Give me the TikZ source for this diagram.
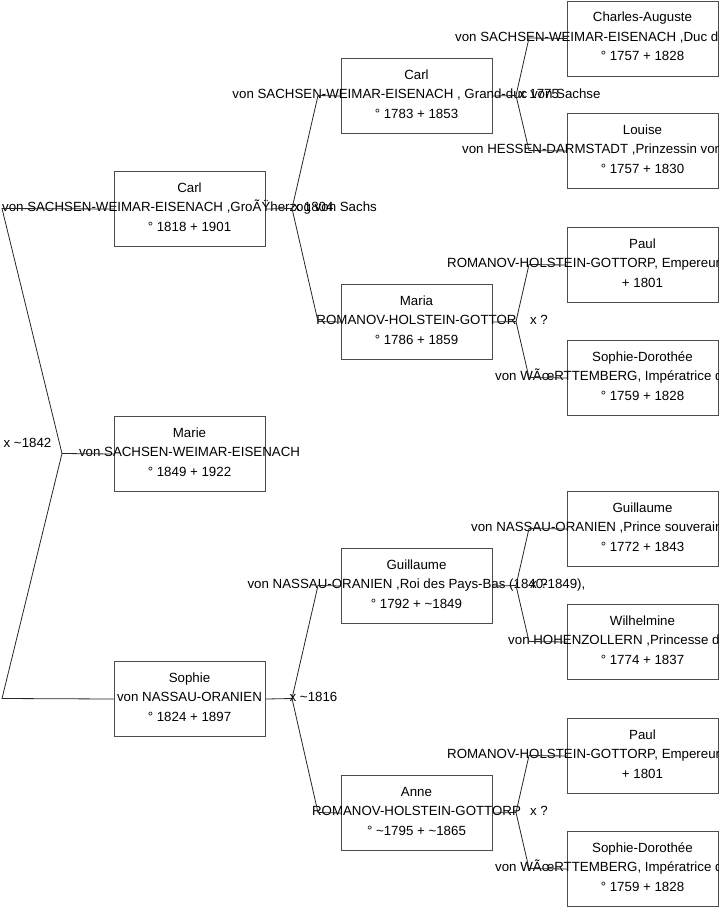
\documentclass[tikz,border=0pt]{standalone}
\usepackage{fontspec}
\setmainfont{Liberation Sans}
\begin{document}
\begin{tikzpicture}[x=1pt,y=-1pt,
  box/.style={draw=black!70, line width=1pt, rectangle, minimum width=151pt, minimum height=75pt, inner sep=0pt, anchor=north west},
  txt/.style={font=\fontsize{13.3}{16}\selectfont, inner sep=0pt, anchor=base},
  txtl/.style={txt, anchor=base west},
  link/.style={draw=black!85, line width=0.8pt}]
\clip (0,0) rectangle (719,908);
\useasboundingbox (0,0) rectangle (719,908);
\newcommand\person[6]{%
  \pgfmathsetmacro\pyA{#3+21}\pgfmathsetmacro\pyB{#3+40.7}%
  \pgfmathsetmacro\pyC{#3+60.4}\pgfmathsetmacro\pxC{#2+75.5}%
  \node[box] (#1) at (#2,#3) {};
  \node[txt] (#1-a) at (\pxC,\pyA) {#4};
  \node[txt] (#1-b) at (\pxC,\pyB) {#5};
  \node[txt] (#1-c) at (\pxC,\pyC) {#6};}
\newcommand\personr[7]{%
  \pgfmathsetmacro\pyA{#3+21}\pgfmathsetmacro\pyB{#3+40.7}%
  \pgfmathsetmacro\pyC{#3+60.4}\pgfmathsetmacro\pxC{#2+75.5}%
  \node[box] (#1) at (#2,#3) {};
  \node[txt] (#1-a) at (\pxC,\pyA) {#4};
  \node[txtl] (#1-b) at (#7,\pyB) {#5};
  \node[txt] (#1-c) at (\pxC,\pyC) {#6};}
% generation 1
\person{carlA}{114}{171}{Carl}{von SACHSEN-WEIMAR-EISENACH ,GroÃŸherzog von Sachs}{° 1818 + 1901}
\person{marie}{114}{416}{Marie}{von SACHSEN-WEIMAR-EISENACH}{° 1849 + 1922}
\person{sophie}{114}{661}{Sophie}{von NASSAU-ORANIEN}{° 1824 + 1897}
% generation 2
\person{carlB}{341}{58}{Carl}{von SACHSEN-WEIMAR-EISENACH , Grand-duc von Sachse}{° 1783 + 1853}
\person{maria}{341}{284}{Maria}{ROMANOV-HOLSTEIN-GOTTOR}{° 1786 + 1859}
\person{guilB}{341}{548}{Guillaume}{von NASSAU-ORANIEN ,Roi des Pays-Bas (1840-1849),}{° 1792 + \textasciitilde1849}
\person{anne}{341}{775}{Anne}{ROMANOV-HOLSTEIN-GOTTORP}{° \textasciitilde1795 + \textasciitilde1865}
% generation 3
\personr{charles}{567}{0.5}{Charles-Auguste}{von SACHSEN-WEIMAR-EISENACH ,Duc d}{° 1757 + 1828}{455}
\personr{louise}{567}{113}{Louise}{von HESSEN-DARMSTADT ,Prinzessin von}{° 1757 + 1830}{462}
\personr{paulA}{567}{227}{Paul}{ROMANOV-HOLSTEIN-GOTTORP, Empereur}{+ 1801}{447}
\personr{sdA}{567}{340}{Sophie-Dorothée}{von WÃœRTTEMBERG, Impératrice d}{° 1759 + 1828}{495}
\personr{guilC}{567}{491}{Guillaume}{von NASSAU-ORANIEN ,Prince souverain}{° 1772 + 1843}{471}
\personr{wilh}{567}{604}{Wilhelmine}{von HOHENZOLLERN ,Princesse d}{° 1774 + 1837}{508}
\personr{paulB}{567}{718}{Paul}{ROMANOV-HOLSTEIN-GOTTORP, Empereur}{+ 1801}{447}
\personr{sdB}{567}{831}{Sophie-Dorothée}{von WÃœRTTEMBERG, Impératrice d}{° 1759 + 1828}{495}
% fork coordinates
\coordinate (v1) at (62,453.5);
\coordinate (v1a) at (2,208.5);
\coordinate (v1b) at (2,698.5);
\coordinate (v2) at (292,208.5);
\coordinate (v2a) at (318,95.5);
\coordinate (v2b) at (318,321.5);
\coordinate (v3) at (292,698.5);
\coordinate (v3a) at (318,585.5);
\coordinate (v3b) at (318,812.5);
\coordinate (v4) at (516,95.5);
\coordinate (v4a) at (529,38);
\coordinate (v4b) at (529,150.5);
\coordinate (v5) at (516,321.5);
\coordinate (v5a) at (529,264.5);
\coordinate (v5b) at (529,377.5);
\coordinate (v6) at (516,585.5);
\coordinate (v6a) at (529,528.5);
\coordinate (v6b) at (529,641.5);
\coordinate (v7) at (516,812.5);
\coordinate (v7a) at (529,755.5);
\coordinate (v7b) at (529,868.5);
% connectors
\draw[link] (marie.west) -- (v1) -- (v1a) -- (carlA.west);
\draw[link] (v1) -- (v1b) -- (sophie.west);
\draw[link] (carlA.east) -- (v2) -- (v2a) -- (carlB.west);
\draw[link] (v2) -- (v2b) -- (maria.west);
\draw[link] (sophie.east) -- (v3) -- (v3a) -- (guilB.west);
\draw[link] (v3) -- (v3b) -- (anne.west);
\draw[link] (carlB.east) -- (v4) -- (v4a) -- (charles.west);
\draw[link] (v4) -- (v4b) -- (louise.west);
\draw[link] (maria.east) -- (v5) -- (v5a) -- (paulA.west);
\draw[link] (v5) -- (v5b) -- (sdA.west);
\draw[link] (guilB.east) -- (v6) -- (v6a) -- (guilC.west);
\draw[link] (v6) -- (v6b) -- (wilh.west);
\draw[link] (anne.east) -- (v7) -- (v7a) -- (paulB.west);
\draw[link] (v7) -- (v7b) -- (sdB.west);
% marriage labels
\node[txt] (m1) at (27.5,447) {x \textasciitilde1842};
\node[txt] (m2) at (313.5,211.7) {x 1804};
\node[txt] (m3) at (313.5,701.7) {x \textasciitilde1816};
\node[txt] (m4) at (539,98.7) {x 1775};
\node[txt] (m5) at (539,324.7) {x ?};
\node[txt] (m6) at (539,588.7) {x ?};
\node[txt] (m7) at (539,815.7) {x ?};
\end{tikzpicture}
\end{document}
